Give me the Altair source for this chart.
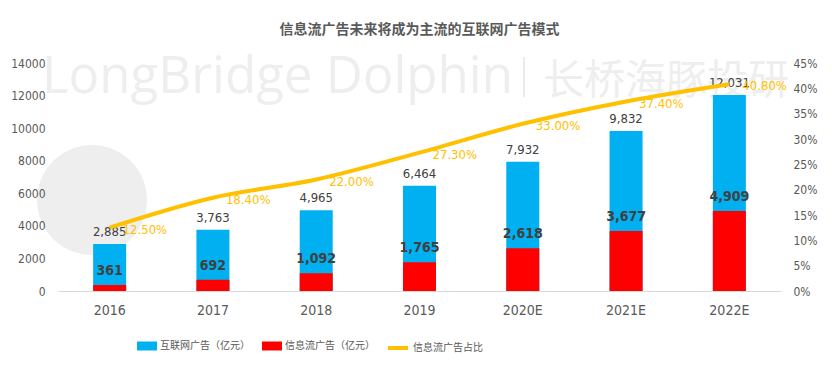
import altair as alt
import pandas as pd

# ---- data ----
years = ["2016", "2017", "2018", "2019", "2020E", "2021E", "2022E"]
internet_ad = [2885, 3763, 4965, 6464, 7932, 9832, 12031]   # 互联网广告（亿元）
feed_ad = [361, 692, 1092, 1765, 2618, 3677, 4909]          # 信息流广告（亿元）
feed_share = [12.5, 18.4, 22.0, 27.3, 33.0, 37.4, 40.8]     # 信息流广告占比 (%)

S_NET = "互联网广告（亿元）"
S_FEED = "信息流广告（亿元）"
S_SHARE = "信息流广告占比"
TITLE = "信息流广告未来将成为主流的互联网广告模式"

df = pd.DataFrame({"year": years, "net": internet_ad, "feed": feed_ad, "share": feed_share})

LAT = "Liberation Sans Narrow, DejaVu Sans Condensed, Liberation Sans, sans-serif"
CJK = "Noto Sans CJK SC, sans-serif"
GRAY = "#595959"
DARK = "#404040"
BLUE = "#00B0F0"
RED = "#FF0000"
GOLD = "#FFC000"
WM = "#eeeeee"

x_enc = alt.X(
    "year:N", sort=years,
    scale=alt.Scale(paddingInner=0, paddingOuter=0),
    axis=alt.Axis(title=None, labelAngle=0, ticks=False, domainColor="#d9d9d9",
                  labelFont=LAT, labelFontSize=14, labelColor=GRAY, labelPadding=12),
)

left_axis = alt.Axis(title=None, values=list(range(0, 14001, 2000)), format="d",
                     domain=False, ticks=False, grid=False, labelFont=LAT,
                     labelFontSize=12, labelColor=GRAY, labelPadding=13, zindex=1)
left_scale = alt.Scale(domain=[0, 14000], nice=False)


def yl(field):
    return alt.Y(field, scale=left_scale, axis=left_axis, title=None, stack=None)


right_axis = alt.Axis(orient="right", title=None, values=list(range(0, 46, 5)),
                      labelExpr="datum.value + '%'", domain=False, ticks=False,
                      grid=False, labelFont=LAT, labelFontSize=12, labelColor=GRAY,
                      labelPadding=12, zindex=1)
right_scale = alt.Scale(domain=[0, 45], nice=False)


def yr(field):
    return alt.Y(field, scale=right_scale, axis=right_axis, title=None)


base = alt.Chart(df)
one = alt.Data(values=[{"k": 1}])

# ---- watermark ----
logo = alt.Chart(one).mark_point(shape="circle", filled=True, color=WM, opacity=1).encode(
    x=alt.value(34), y=alt.value(137), size=alt.value(12100))
wm_en = alt.Chart(one).mark_text(align="left", baseline="alphabetic", font="Open Sans",
                                 fontSize=51, color=WM).encode(
    x=alt.value(-16), y=alt.value(30), text=alt.value("LongBridge Dolphin"))
wm_bar = alt.Chart(one).mark_rule(color="#e4e4e4", strokeWidth=1.5).encode(
    x=alt.value(466), y=alt.value(-6), y2=alt.value(34))
wm_cn = alt.Chart(one).mark_text(align="left", baseline="alphabetic", font=CJK,
                                 fontSize=41, color=WM).encode(
    x=alt.value(485), y=alt.value(31), text=alt.value("长桥海豚投研"))

# ---- bars ----
bars = base.transform_fold(["net", "feed"], as_=["key", "value"]).transform_calculate(
    series=f"datum.key == 'net' ? '{S_NET}' : '{S_FEED}'"
).mark_bar(size=33).encode(
    x=x_enc,
    y=yl("value:Q"),
    color=alt.Color("series:N", scale=alt.Scale(domain=[S_NET, S_FEED], range=[BLUE, RED]),
                    legend=alt.Legend(title=None, orient="none", legendX=79, legendY=273,
                                      direction="horizontal",
                                      symbolType="M-1,-0.45H1V0.45H-1Z", symbolSize=400,
                                      symbolStrokeWidth=0, labelFont=CJK, labelFontSize=10,
                                      labelColor=GRAY, labelOffset=3, columnPadding=12)),
)

net_labels = base.mark_text(dy=-12, font=LAT, fontSize=13, color=DARK).encode(
    x=x_enc, y=yl("net:Q"), text=alt.Text("net:Q", format=",d"))
feed_labels = base.mark_text(dy=-14, font=LAT, fontSize=14, fontWeight="bold",
                             color=DARK).encode(
    x=x_enc, y=yl("feed:Q"), text=alt.Text("feed:Q", format=",d"))

left_group = alt.layer(logo, wm_en, wm_bar, wm_cn, bars, net_labels, feed_labels)

# ---- share line ----
line = base.transform_calculate(series=f"'{S_SHARE}'").mark_line(
    interpolate="monotone", strokeWidth=4).encode(
    x=x_enc, y=yr("share:Q"),
    stroke=alt.Stroke("series:N", scale=alt.Scale(domain=[S_SHARE], range=[GOLD]),
                      legend=alt.Legend(title=None, orient="none", legendX=328, legendY=273,
                                        symbolType="stroke", symbolSize=400,
                                        symbolStrokeWidth=4, labelFont=CJK,
                                        labelFontSize=10, labelColor=GRAY, labelOffset=3)),
)

pct_labels = base.transform_calculate(
    lbl="format(datum.share, '.2f') + '%'"
).mark_text(align="left", dx=13, dy=2, font=LAT, fontSize=13, color=GOLD).encode(
    x=x_enc, y=yr("share:Q"), text="lbl:N")

right_group = alt.layer(line, pct_labels)

chart = alt.layer(left_group, right_group).resolve_scale(y="independent").properties(
    width=723, height=228,
    title=alt.TitleParams(TITLE, font=CJK, fontSize=14, fontWeight="bold", color=GRAY,
                          anchor="middle", offset=15),
    padding={"left": 50, "top": 55, "right": 43, "bottom": 70},
    autosize=alt.AutoSizeParams(type="none"),
).configure_view(stroke=None)

chart.save("out.html", embed_options={"renderer": "svg", "actions": False})
